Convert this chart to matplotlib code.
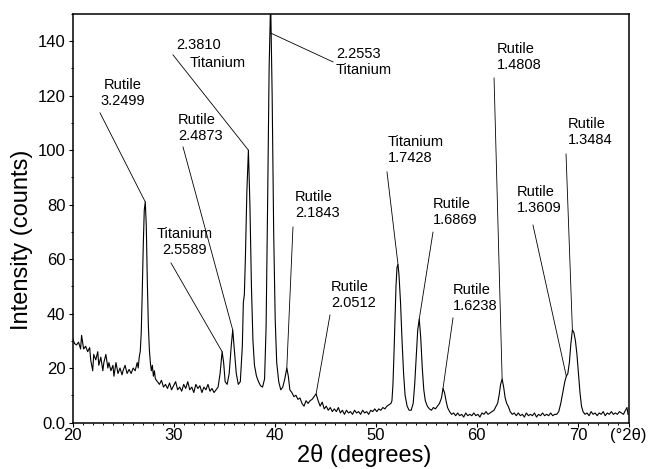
import numpy as np
import matplotlib
matplotlib.use('Agg')
import matplotlib.pyplot as plt
from matplotlib import font_manager
from matplotlib.ticker import MultipleLocator, FuncFormatter

# XRD trace: 2-theta (degrees) and intensity (counts)
two_theta = [
    20.0, 20.2, 20.4, 20.6, 20.8, 20.9, 21.1, 21.3, 21.5, 21.7, 21.8, 22.0, 22.1, 22.3, 22.5,
    22.6, 22.8, 23.0, 23.1, 23.3, 23.5, 23.6, 23.8, 24.0, 24.1, 24.3, 24.5, 24.7, 24.9, 25.0,
    25.2, 25.4, 25.6, 25.8, 26.0, 26.2, 26.4, 26.5, 26.6,
    26.7, 26.8, 26.9, 27.0, 27.1, 27.2, 27.3, 27.4, 27.5, 27.6, 27.7, 27.8, 27.9, 28.0, 28.1, 28.2,
    28.4, 28.6, 28.8, 29.0, 29.2, 29.4, 29.6, 29.8, 30.0, 30.2, 30.4, 30.6, 30.8, 31.0, 31.2,
    31.4, 31.6, 31.8, 32.0, 32.2, 32.4, 32.6, 32.8, 33.0, 33.2, 33.4, 33.6, 33.8, 34.0, 34.2,
    34.4, 34.6, 34.8, 34.95, 35.1, 35.3, 35.5, 35.7, 35.85, 36.0, 36.2, 36.4, 36.6, 36.8, 36.9,
    37.0, 37.1, 37.25, 37.4, 37.55, 37.7, 37.85, 38.0, 38.2, 38.4, 38.6, 38.8, 39.0, 39.15,
    39.3, 39.45, 39.6, 39.75, 39.9, 40.05, 40.2, 40.4, 40.6, 40.8, 41.0, 41.2, 41.35, 41.5, 41.7,
    41.9, 42.1, 42.3, 42.5, 42.7, 42.9, 43.1, 43.3, 43.5, 43.7, 43.9, 44.1, 44.3, 44.5, 44.7,
    44.9, 45.1, 45.3, 45.5, 45.7, 45.9, 46.1, 46.3, 46.5, 46.7, 46.9, 47.1, 47.3, 47.5, 47.7,
    47.9, 48.1, 48.3, 48.5, 48.7, 48.9, 49.1, 49.3, 49.5, 49.7, 49.9, 50.1, 50.3, 50.5, 50.7,
    50.9, 51.1, 51.3, 51.5, 51.6, 51.7, 51.8, 51.9, 52.0, 52.1, 52.2, 52.3, 52.45, 52.6, 52.75,
    52.9, 53.1, 53.3, 53.5, 53.7, 53.85, 54.0, 54.15, 54.3, 54.45, 54.6, 54.75, 54.9, 55.1, 55.3,
    55.5, 55.7, 55.9, 56.1, 56.3, 56.5, 56.65, 56.8, 56.95, 57.1, 57.3, 57.5, 57.7, 57.9, 58.1,
    58.3, 58.5, 58.7, 58.9, 59.1, 59.3, 59.5, 59.7, 59.9, 60.1, 60.3, 60.5, 60.7, 60.9, 61.1,
    61.3, 61.5, 61.7, 61.9, 62.05, 62.2, 62.35, 62.5, 62.65, 62.8, 62.95, 63.1, 63.3, 63.5, 63.7,
    63.9, 64.1, 64.3, 64.5, 64.7, 64.9, 65.1, 65.3, 65.5, 65.7, 65.9, 66.1, 66.3, 66.5, 66.7,
    66.9, 67.1, 67.3, 67.5, 67.7, 67.9, 68.1, 68.3, 68.5, 68.7, 68.85, 69.0, 69.15, 69.3, 69.45,
    69.6, 69.75, 69.9, 70.05, 70.2, 70.35, 70.5, 70.7, 70.9, 71.1, 71.3, 71.5, 71.7, 71.9, 72.1,
    72.3, 72.5, 72.7, 72.9, 73.1, 73.3, 73.5, 73.7, 73.9, 74.1, 74.3, 74.5, 74.7, 74.85, 74.95,
]
intensity = [
    31, 29, 28.5, 29.5, 27, 32, 27, 28, 26, 27.5, 23, 19, 25, 23, 26,
    21, 24, 19, 22, 25, 20, 22, 19, 21, 17, 22, 18, 20, 17.5, 19,
    21, 18, 19.5, 18, 20, 19, 22, 20, 24,
    26, 33, 48, 65, 78, 81, 72, 52, 36, 27, 22, 19, 21, 17, 19, 16,
    15, 14, 15.5, 13, 14, 12.5, 14.5, 12, 13.5, 15, 12, 13, 11.5, 14, 12.5,
    15, 12, 13, 11, 14, 12.5, 13.5, 11, 13, 12, 14, 11.5, 12.5, 11, 12,
    13, 18, 26, 22, 15, 14, 18, 28, 34, 27, 18, 14, 15, 28, 44,
    47, 60, 85, 100, 80, 50, 30, 21, 17, 15, 13.5, 13, 16, 35,
    80, 130, 155, 120, 70, 38, 22, 15, 12, 13, 16, 20, 17, 12, 11,
    9.5, 10, 8.5, 9, 7, 6, 8, 7, 8, 8.5, 9.5, 10.5, 8, 6, 7.5,
    5, 6, 4.5, 5.5, 4, 5, 4, 5.5, 3.5, 4.5, 3, 4.5, 3.5, 4, 3,
    4.5, 3.5, 4, 3, 4.5, 3.5, 4, 3, 4.5, 4, 5, 4, 5, 4.5, 5.5,
    5, 6, 6.5, 7, 8, 14, 25, 38, 50, 57, 58, 54, 44, 30, 18,
    10, 6, 4.5, 4.5, 7, 14, 24, 34, 38, 31, 20, 12, 8, 6, 5,
    4.5, 5.5, 5, 6, 7, 9, 12.5, 11, 8, 5.5, 4, 3, 3.5, 2.5, 3.5,
    2.5, 3, 2, 3.5, 2.5, 3, 2.5, 3.5, 2.5, 3, 2, 3.5, 3, 4, 3,
    3.5, 4, 4.5, 6, 7, 10, 14, 16, 13, 9, 7, 6, 4, 3, 3.5,
    2.5, 3.5, 2.5, 3, 2, 3.5, 2.5, 3, 2.5, 3.5, 2, 3, 2.5, 3.5, 2.5,
    3, 2.5, 3.5, 2.5, 3, 3, 4, 7, 11, 15, 17, 18, 22, 29, 34,
    33, 30, 25, 18, 11, 6, 4, 3, 3.5, 2.5, 4, 3, 3.5, 2.5, 3.5,
    3, 4, 2.5, 3.5, 3, 4, 3, 3.5, 3, 4, 3.5, 3, 4.5, 5.5, 3,
]

# identified reflections: phase, d-spacing label, 2-theta of the peak
peak_phase = ['Rutile', 'Titanium', 'Rutile', 'Titanium', 'Titanium', 'Rutile', 'Rutile',
              'Titanium', 'Rutile', 'Rutile', 'Rutile', 'Rutile', 'Rutile']
peak_d = ['3.2499', '2.5589', '2.4873', '2.3810', '2.2553', '2.1843', '2.0512',
          '1.7428', '1.6869', '1.6238', '1.4808', '1.3609', '1.3484']
peak_pos = [27.2, 34.8, 35.85, 37.4, 39.6, 41.2, 44.1, 52.2, 54.3, 56.65, 62.5, 68.85, 69.45]

# label layout (data coords): text anchor, leader start, text order and alignment
label_xy = [(25.0, 126.5), (31.13, 71.8), (30.44, 113.6), (30.24, 141.2), (46.06, 137.9),
            (42.01, 85.4), (45.57, 52.3), (51.21, 105.6), (55.66, 82.8), (57.64, 51.2),
            (61.99, 139.7), (63.97, 87.2), (69.02, 112.2)]
leader_xy = [(22.72, 113.7), (29.74, 58.6), (30.93, 101.2), (29.94, 135.0), (45.77, 132.4),
             (41.81, 71.8), (45.47, 39.5), (51.11, 92.0), (55.66, 69.9), (57.64, 38.4),
             (61.70, 126.5), (65.55, 72.5), (68.82, 98.6)]
label_ha = ['center', 'center', 'left', 'left', 'left', 'left', 'left',
            'left', 'left', 'left', 'left', 'left', 'left']
d_first = [False, False, False, True, True, False, False,
           False, False, False, False, False, False]

plt.rcParams['font.family'] = ['Liberation Sans', 'DejaVu Sans']

try:
    font_manager.findfont('Liberation Sans Narrow', fallback_to_default=False)
    ann_family = ['Liberation Sans Narrow', 'DejaVu Sans']
    ann_size = 11.5
except ValueError:
    ann_family = ['Liberation Sans', 'DejaVu Sans']
    ann_size = 10.5

fig = plt.figure(figsize=(6.5, 4.69), dpi=100)
ax = fig.add_axes([72.5 / 650, (469 - 422.5) / 469, 556 / 650, 408.5 / 469])

ax.plot(two_theta, intensity, color='black', lw=0.8)

ax.set_xlim(20, 75)
ax.set_ylim(0, 150)

# leaders and labels
tops = np.interp(peak_pos, two_theta, intensity)
for i in range(len(peak_pos)):
    end_y = min(tops[i], 143)
    ax.plot([leader_xy[i][0], peak_pos[i]], [leader_xy[i][1], end_y],
            color='black', lw=0.6)
    if d_first[i]:
        if peak_d[i] == '2.3810':
            # this one has its two lines staggered
            ax.text(label_xy[i][0], label_xy[i][1], peak_d[i], ha='left', va='top',
                    family=ann_family, fontsize=ann_size)
            ax.text(31.62, 134.6, peak_phase[i], ha='left', va='top',
                    family=ann_family, fontsize=ann_size)
        else:
            ax.text(label_xy[i][0], label_xy[i][1], peak_d[i] + '\n' + peak_phase[i],
                    ha='left', va='top', family=ann_family, fontsize=ann_size,
                    multialignment='left')
    else:
        ax.text(label_xy[i][0], label_xy[i][1], peak_phase[i] + '\n' + peak_d[i],
                ha=label_ha[i], va='top', family=ann_family, fontsize=ann_size,
                multialignment=label_ha[i])

# axes styling
for s in ax.spines.values():
    s.set_linewidth(1.1)
ax.set_xticks([20, 30, 40, 50, 60, 70, 75])
ax.set_xticklabels(['20', '30', '40', '50', '60', '70', '(°2θ)'])
ax.xaxis.set_minor_locator(MultipleLocator(1))
ax.yaxis.set_major_locator(MultipleLocator(20))
ax.yaxis.set_minor_locator(MultipleLocator(10))
ax.yaxis.set_major_formatter(FuncFormatter(lambda v, p: '0.0' if v == 0 else '%d' % v))
ax.tick_params(which='major', direction='out', length=3, width=0.8, labelsize=12)
ax.tick_params(which='minor', direction='out', length=1.6, width=0.7)
ax.tick_params(axis='x', pad=1)
ax.tick_params(axis='y', pad=2)

ax.set_xlabel('2θ (degrees)', fontsize=17, va='center')
ax.xaxis.set_label_coords(0.524, -0.0796)
ax.set_ylabel('Intensity (counts)', fontsize=17, va='center')
ax.yaxis.set_label_coords(-0.09, 0.447)

fig.savefig('out.png', dpi=100)
